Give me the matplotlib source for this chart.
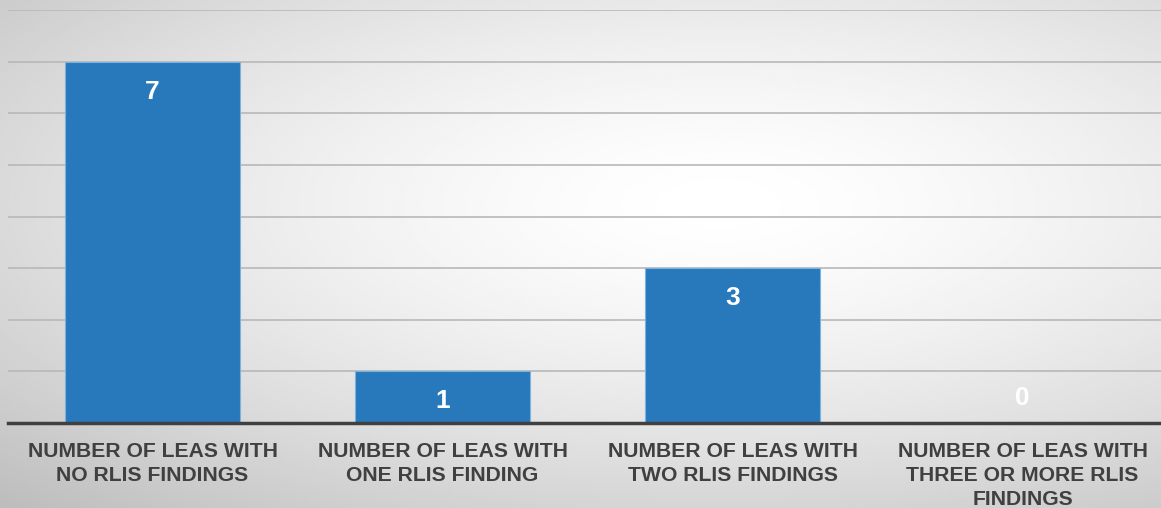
import numpy as np
import matplotlib.pyplot as plt
from matplotlib import font_manager

categories = ['NUMBER OF LEAS WITH\nNO RLIS FINDINGS',
              'NUMBER OF LEAS WITH\nONE RLIS FINDING',
              'NUMBER OF LEAS WITH\nTWO RLIS FINDINGS',
              'NUMBER OF LEAS WITH\nTHREE OR MORE RLIS\nFINDINGS']
counts = [7, 1, 3, 0]

# pick the regular-width Liberation Sans Bold file (not Narrow)
bold_file = None
for f in font_manager.findSystemFonts():
    if f.endswith('LiberationSans-Bold.ttf'):
        bold_file = f
        break
if bold_file:
    bold = font_manager.FontProperties(fname=bold_file)
else:
    bold = font_manager.FontProperties(family='DejaVu Sans', weight='bold')

fig = plt.figure(figsize=(11.61, 5.08), dpi=100)

# radial gray background
bg = fig.add_axes([0, 0, 1, 1], zorder=0)
xx, yy = np.meshgrid(np.linspace(0, 1, 400), np.linspace(0, 1, 200))
r = np.sqrt(((xx - 0.62) / 1.0) ** 2 + ((yy - 0.6) / 0.9) ** 2)
shade = 1 - 0.3 * np.clip(r, 0, 1) ** 1.5
bg.imshow(shade, cmap='gray', vmin=0, vmax=1, extent=[0, 1, 0, 1],
          aspect='auto', interpolation='bilinear', origin='lower')
bg.axis('off')

ax = fig.add_axes([7.5 / 1161, 85 / 508, 1160 / 1161, 413 / 508], zorder=1)
ax.patch.set_alpha(0)

x = np.arange(len(counts))
ax.bar(x, counts, width=0.603, color='#2779bb', edgecolor='#7fb1de',
       linewidth=0.8, zorder=3)

for xi, v in zip(x, counts):
    dy = -30 if v > 0 else 25
    t = ax.annotate(str(v), (xi, v), xytext=(0, dy), textcoords='offset pixels',
                    ha='center', va='center', color='white', zorder=4,
                    fontproperties=bold)
    t.set_fontsize(19)

ax.set_xlim(-0.5, 3.5)
ax.set_ylim(0, 8)
ax.set_yticks(range(0, 9))
ax.yaxis.grid(True, color='#b8b8b8', linewidth=1.2, zorder=0)
ax.tick_params(axis='y', left=False, labelleft=False)
ax.set_xticks(x)
labels = ax.set_xticklabels(categories, color='#404040', linespacing=1.32)
for lab in labels:
    lab.set_fontproperties(bold)
    lab.set_fontsize(15.2)
ax.tick_params(axis='x', length=0, pad=14)
for s in ['top', 'right', 'left']:
    ax.spines[s].set_visible(False)
ax.spines['bottom'].set_color('#404040')
ax.spines['bottom'].set_linewidth(2.5)
ax.spines['bottom'].set_zorder(5)

fig.savefig('out.png', dpi=100)
